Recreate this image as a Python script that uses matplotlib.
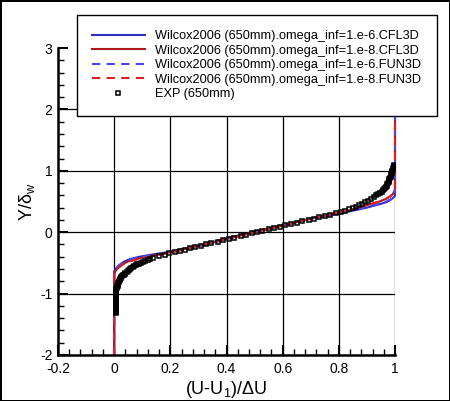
import matplotlib
matplotlib.use('Agg')
import matplotlib.pyplot as plt

# Wilcox2006 (650mm), omega_inf = 1.e-6, CFL3D
y_cfl3d_6 = [-2.0, -0.64, -0.60, -0.56, -0.52, -0.48, -0.44, -0.40, -0.36, -0.32,
             -0.20, -0.10, 0.0, 0.11, 0.22, 0.33, 0.40, 0.45, 0.49, 0.53, 0.56, 0.58, 0.60, 3.0]
u_cfl3d_6 = [0.0, 0.0, 0.005, 0.012, 0.022, 0.035, 0.055, 0.09, 0.14, 0.20,
             0.32, 0.40, 0.49, 0.60, 0.70, 0.83, 0.90, 0.94, 0.97, 0.985, 0.993, 0.998, 1.0, 1.0]

# omega_inf = 1.e-8, CFL3D
y_cfl3d_8 = [-2.0, -0.68, -0.64, -0.60, -0.56, -0.52, -0.48, -0.44, -0.40, -0.36, -0.32,
             -0.20, -0.10, 0.0, 0.11, 0.22, 0.33, 0.40, 0.46, 0.50, 0.54, 0.58, 0.62, 0.66, 0.70, 3.0]
u_cfl3d_8 = [0.0, 0.0, 0.004, 0.010, 0.018, 0.030, 0.048, 0.075, 0.115, 0.16, 0.205,
             0.32, 0.41, 0.50, 0.60, 0.70, 0.81, 0.87, 0.915, 0.945, 0.967, 0.982, 0.992, 0.997, 1.0, 1.0]

# FUN3D runs (nearly on top of CFL3D)
y_fun3d_6 = [-2.0, -0.65, -0.61, -0.57, -0.53, -0.49, -0.45, -0.41, -0.37, -0.33,
             -0.20, -0.10, 0.0, 0.11, 0.22, 0.33, 0.40, 0.45, 0.49, 0.53, 0.56, 0.58, 0.60, 3.0]
u_fun3d_6 = [0.0, 0.0, 0.005, 0.012, 0.022, 0.035, 0.055, 0.09, 0.14, 0.20,
             0.33, 0.41, 0.50, 0.60, 0.70, 0.82, 0.89, 0.935, 0.965, 0.983, 0.992, 0.997, 1.0, 1.0]
y_fun3d_8 = [-2.0, -0.69, -0.65, -0.61, -0.57, -0.53, -0.49, -0.45, -0.41, -0.37, -0.33,
             -0.20, -0.10, 0.0, 0.11, 0.22, 0.33, 0.40, 0.46, 0.50, 0.54, 0.58, 0.62, 0.66, 0.70, 3.0]
u_fun3d_8 = [0.0, 0.0, 0.004, 0.010, 0.018, 0.030, 0.048, 0.075, 0.115, 0.16, 0.205,
             0.325, 0.41, 0.50, 0.60, 0.70, 0.81, 0.87, 0.915, 0.945, 0.967, 0.982, 0.992, 0.997, 1.0, 1.0]

# experiment (650mm)
y_exp = [-1.32, -1.305, -1.29, -1.275, -1.26, -1.245, -1.23, -1.215, -1.20, -1.185,
         -1.17, -1.155, -1.14, -1.125, -1.11, -1.095, -1.08, -1.065, -1.05, -1.035,
         -1.02, -1.005, -0.99, -0.975, -0.96, -0.945, -0.93, -0.915, -0.90, -0.885,
         -0.87, -0.855, -0.84, -0.825, -0.81, -0.795, -0.78, -0.765, -0.75, -0.735,
         -0.72, -0.705, -0.69, -0.675, -0.66, -0.645, -0.63, -0.615, -0.60, -0.585,
         -0.57, -0.555, -0.54, -0.525, -0.51, -0.495, -0.48, -0.465, -0.45, -0.435,
         -0.415, -0.39, -0.365, -0.345, -0.325, -0.305, -0.285, -0.265, -0.245, -0.22,
         -0.20, -0.18, -0.155, -0.135, -0.11, -0.09, -0.065, -0.045, -0.02, 0.0, 0.02,
         0.045, 0.065, 0.09, 0.11, 0.13, 0.155, 0.175, 0.20, 0.22, 0.24, 0.265, 0.285,
         0.31, 0.33,
         0.35, 0.37, 0.39, 0.41, 0.435, 0.46, 0.485, 0.51, 0.54, 0.57,
         0.60, 0.62, 0.64, 0.66, 0.68, 0.70, 0.72, 0.74, 0.76, 0.78, 0.80, 0.82, 0.84,
         0.86, 0.88, 0.90, 0.92, 0.94, 0.96, 0.98, 1.00, 1.02, 1.04, 1.06, 1.08, 1.10]
u_exp = [0.007, 0.006, 0.006, 0.006, 0.005, 0.005, 0.005, 0.005, 0.005, 0.005,
         0.005, 0.005, 0.005, 0.005, 0.005, 0.005, 0.005, 0.005, 0.005, 0.006,
         0.006, 0.006, 0.006, 0.007, 0.007, 0.008, 0.008, 0.009, 0.010, 0.011,
         0.012, 0.013, 0.014, 0.015, 0.017, 0.018, 0.020, 0.022, 0.024, 0.026,
         0.028, 0.031, 0.034, 0.037, 0.040, 0.044, 0.048, 0.052, 0.056, 0.061,
         0.066, 0.071, 0.077, 0.083, 0.089, 0.096, 0.103, 0.111, 0.119, 0.128,
         0.140, 0.160, 0.180, 0.197, 0.215, 0.233, 0.251, 0.269, 0.287, 0.310,
         0.328, 0.346, 0.369, 0.387, 0.410, 0.428, 0.451, 0.469, 0.492, 0.510, 0.528,
         0.551, 0.569, 0.592, 0.610, 0.628, 0.651, 0.669, 0.692, 0.710, 0.728, 0.751, 0.768,
         0.790, 0.807,
         0.822, 0.836, 0.850, 0.862, 0.872, 0.882, 0.893, 0.903, 0.914, 0.924,
         0.934, 0.941, 0.947, 0.953, 0.958, 0.962, 0.965, 0.968, 0.971, 0.973, 0.975, 0.977, 0.979,
         0.980, 0.982, 0.984, 0.985, 0.987, 0.988, 0.990, 0.991, 0.993, 0.994, 0.995, 0.996, 0.997]

x_ticks = [-0.2, 0, 0.2, 0.4, 0.6, 0.8, 1]
y_ticks = [-2, -1, 0, 1, 2, 3]
x_tick_labels = ['-0.2', '0', '0.2', '0.4', '0.6', '0.8', '1']
y_tick_labels = ['-2', '-1', '0', '1', '2', '3']

labels = ['Wilcox2006 (650mm).omega_inf=1.e-6.CFL3D',
          'Wilcox2006 (650mm).omega_inf=1.e-8.CFL3D',
          'Wilcox2006 (650mm).omega_inf=1.e-6.FUN3D',
          'Wilcox2006 (650mm).omega_inf=1.e-8.FUN3D',
          'EXP (650mm)']

plt.rcParams['font.family'] = ['Liberation Sans', 'DejaVu Sans']
plt.rcParams['mathtext.fontset'] = 'custom'
plt.rcParams['mathtext.rm'] = 'Liberation Sans'
plt.rcParams['mathtext.it'] = 'Liberation Sans:italic'

fig = plt.figure(figsize=(4.5, 4.01), dpi=100)
fig.patch.set_edgecolor('black')
fig.patch.set_linewidth(2)
ax = fig.add_axes([58/450, 1 - 355/401, (395 - 58)/450, (355 - 48)/401])

# grid (no line on the axis limits, like the original)
for gx in x_ticks[1:]:
    ax.axvline(gx, color='black', lw=0.9, zorder=0.5)
for gy in y_ticks[1:-1]:
    ax.axhline(gy, color='black', lw=0.9, zorder=0.5)

l1, = ax.plot(u_cfl3d_6, y_cfl3d_6, color='#3030c0', lw=1.5, clip_on=False, zorder=2)
l2, = ax.plot(u_cfl3d_8, y_cfl3d_8, color='#b01818', lw=1.5, clip_on=False, zorder=2)
l3, = ax.plot(u_fun3d_6, y_fun3d_6, color='#4848f0', lw=1.5, ls=(0, (4, 3)), clip_on=False, zorder=2.1)
l4, = ax.plot(u_fun3d_8, y_fun3d_8, color='#e02020', lw=1.5, ls=(0, (4, 3)), clip_on=False, zorder=2.1)
l5, = ax.plot(u_exp, y_exp, ls='none', marker='s', ms=3.3, mfc='none', mec='black', mew=1.1, zorder=3)

ax.set_xlim(-0.2, 1)
ax.set_ylim(-2, 3)
ax.set_xticks(x_ticks)
ax.set_xticklabels(x_tick_labels)
ax.set_yticks(y_ticks)
ax.set_yticklabels(y_tick_labels)
ax.set_xticks([i * 0.04 - 0.2 for i in range(31)], minor=True)
ax.set_yticks([i * 0.2 - 2 for i in range(26)], minor=True)
ax.tick_params(which='major', direction='in', length=7, width=1.5, labelsize=10, pad=5)
ax.tick_params(which='minor', direction='in', length=4, width=1)
ax.tick_params(axis='y', which='major', pad=4)

for s in ['top', 'right']:
    ax.spines[s].set_visible(False)
for s in ['left', 'bottom']:
    ax.spines[s].set_linewidth(1.8)

ax.set_xlabel('(U-U$_\\mathrm{1}$)/ΔU', fontsize=13, labelpad=2)
ax.set_ylabel('Y/δ$_\\mathrm{w}$', fontsize=13)
ax.yaxis.set_label_coords((37 - 58) / 337, 0.5)

leg = ax.legend([l1, l2, l3, l4, l5], labels, loc='upper left',
                bbox_to_anchor=(77/450, 1 - 15/401), bbox_transform=fig.transFigure,
                borderaxespad=0, fontsize=9.2, handlelength=4.1, handletextpad=0.85,
                labelspacing=0.2, borderpad=1.19, fancybox=False, framealpha=1)
leg.get_frame().set_edgecolor('black')
leg.get_frame().set_linewidth(1.0)
leg.set_zorder(5)

plt.savefig('out.png', dpi=100, edgecolor=fig.get_edgecolor())
